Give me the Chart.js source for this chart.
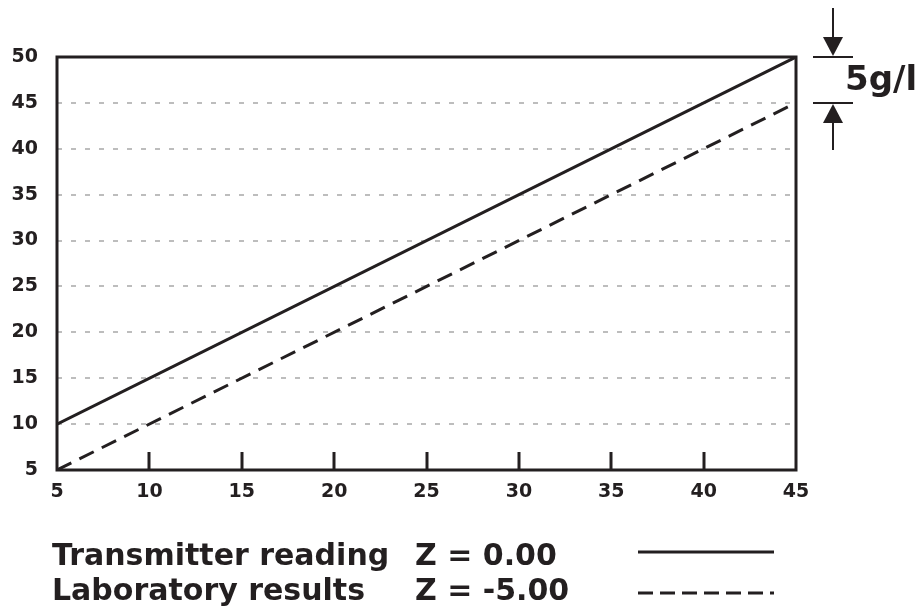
<!DOCTYPE html>
<html>
<head>
<meta charset="utf-8">
<script src="https://cdn.jsdelivr.net/npm/chart.js@4.4.1/dist/chart.umd.min.js"></script>
<style>
  html, body { margin: 0; padding: 0; background: #fff; }
  #wrap { width: 921px; height: 611px; }
</style>
</head>
<body>
<div id="wrap"><canvas id="zChart" width="921" height="611"></canvas></div>
<script>
// chart values
const xValues = [5, 45];
const transmitter = [10, 50];
const laboratory = [5, 45];
const xTicks = [5, 10, 15, 20, 25, 30, 35, 40, 45];
const yTicks = [5, 10, 15, 20, 25, 30, 35, 40, 45, 50];
const seriesNames = ['Transmitter reading', 'Laboratory results'];
const zLabels = ['Z = 0.00', 'Z = -5.00'];
const offsetLabel = '5g/l';

const INK = '#231f20';
const FONT = '"DejaVu Sans", sans-serif';

function pts(ys){
  return xValues.map((x, i) => ({ x: x, y: ys[i] }));
}

// frame, inner x ticks, offset arrows and the legend block under the plot
const extras = {
  id: 'extras',
  afterDatasetsDraw(chart){
    const c = chart.ctx;
    const a = chart.chartArea;
    const xs = chart.scales.x, ys = chart.scales.y;
    c.save();
    c.strokeStyle = INK;
    c.fillStyle = INK;
    c.lineWidth = 3;
    c.setLineDash([]);
    c.strokeRect(a.left, a.top, a.right - a.left, a.bottom - a.top);

    // tick marks pointing up into the plot
    xTicks.slice(1, -1).forEach(v => {
      const px = Math.round(xs.getPixelForValue(v));
      c.beginPath();
      c.moveTo(px, a.bottom);
      c.lineTo(px, a.bottom - 18);
      c.stroke();
    });

    // 5g/l offset marker
    const yTop = ys.getPixelForValue(transmitter[1]);
    const yLow = ys.getPixelForValue(laboratory[1]);
    const ax = 833;
    c.lineWidth = 2;
    c.beginPath();
    c.moveTo(813, yTop); c.lineTo(853, yTop);
    c.moveTo(813, yLow); c.lineTo(853, yLow);
    c.moveTo(ax, 8); c.lineTo(ax, yTop - 14);
    c.moveTo(ax, yLow + 14); c.lineTo(ax, 150);
    c.stroke();
    c.beginPath();
    c.moveTo(ax - 10, yTop - 20); c.lineTo(ax + 10, yTop - 20); c.lineTo(ax, yTop - 1); c.closePath();
    c.fill();
    c.beginPath();
    c.moveTo(ax - 10, yLow + 20); c.lineTo(ax + 10, yLow + 20); c.lineTo(ax, yLow + 1); c.closePath();
    c.fill();
    c.font = 'bold 34px ' + FONT;
    c.textBaseline = 'alphabetic';
    c.textAlign = 'left';
    c.fillText(offsetLabel, 845, 90);

    // legend
    c.font = 'bold 30px ' + FONT;
    const rows = [565, 600];
    seriesNames.forEach((name, i) => {
      c.fillText(name, 52, rows[i]);
      c.fillText(zLabels[i], 415, rows[i]);
    });
    c.lineWidth = 3;
    c.beginPath();
    c.moveTo(638, 552); c.lineTo(774, 552);
    c.stroke();
    c.setLineDash([15, 7]);
    c.beginPath();
    c.moveTo(638, 593); c.lineTo(774, 593);
    c.stroke();
    c.restore();
  }
};

const chart = new Chart(document.getElementById('zChart'), {
  type: 'line',
  data: {
    datasets: [{
      label: seriesNames[0],
      data: pts(transmitter),
      borderColor: INK,
      borderWidth: 3,
      pointRadius: 0,
      fill: false
    }, {
      label: seriesNames[1],
      data: pts(laboratory),
      borderColor: INK,
      borderWidth: 3,
      borderDash: [16, 9],
      pointRadius: 0,
      fill: false
    }]
  },
  options: {
    responsive: false,
    animation: false,
    layout: { padding: { top: 57, right: 125, left: 0, bottom: 0 } },
    plugins: { legend: { display: false }, tooltip: { enabled: false } },
    scales: {
      x: {
        type: 'linear',
        min: 5, max: 45,
        afterFit(s){ s.height = 141; },
        afterBuildTicks(s){ s.ticks = xTicks.map(v => ({ value: v })); },
        grid: { display: false, drawTicks: false },
        border: { display: false },
        ticks: { color: INK, padding: 11, font: { family: FONT, size: 19, weight: 'bold' } }
      },
      y: {
        type: 'linear',
        min: 5, max: 50,
        afterFit(s){ s.width = 57; },
        afterBuildTicks(s){ s.ticks = yTicks.map(v => ({ value: v })); },
        grid: {
          drawTicks: false,
          lineWidth: 2,
          color: c => (c.tick && (c.tick.value === 5 || c.tick.value === 50)) ? 'rgba(0,0,0,0)' : '#bdbdbd'
        },
        border: { display: false, dash: [5, 9] },
        ticks: { color: INK, padding: 19, font: { family: FONT, size: 19, weight: 'bold' } }
      }
    }
  },
  plugins: [extras]
});
</script>
</body>
</html>
